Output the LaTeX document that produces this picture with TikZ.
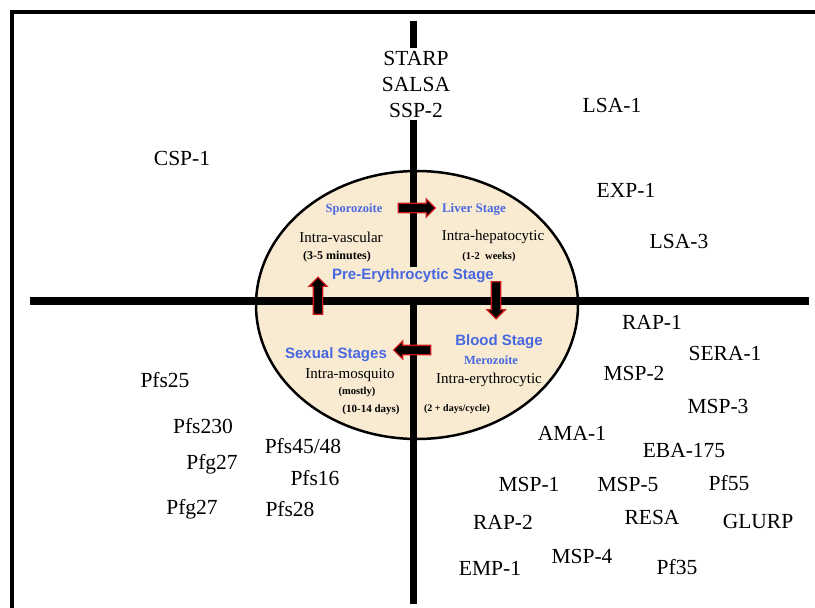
\documentclass[tikz,border=0pt]{standalone}
\usepackage{fontspec}
\setmainfont{Liberation Serif}
\newfontfamily\sansfam{Liberation Sans}
\usetikzlibrary{shapes.arrows,shapes.geometric}
\definecolor{beige}{RGB}{249,234,210}
\definecolor{stageblue}{RGB}{72,104,224}
\definecolor{arrowred}{RGB}{205,25,25}
\begin{document}
\begin{tikzpicture}[x=1pt,y=-1pt,
  prot/.style={font=\fontsize{21.5}{24}\selectfont, inner sep=0pt},
  intra/.style={font=\fontsize{15}{17}\selectfont, inner sep=0pt},
  dur/.style={font=\bfseries\fontsize{10.5}{12}\selectfont, inner sep=0pt},
  bluesans/.style={font=\sansfam\bfseries\fontsize{15}{17}\selectfont, text=stageblue, inner sep=0pt},
  blueserif/.style={font=\bfseries\fontsize{12.5}{14}\selectfont, text=stageblue, inner sep=0pt},
  blockarrow/.style={single arrow, fill=black, draw=arrowred, line width=1.3pt,
    minimum height=37pt, single arrow head extend=4.5pt,
    single arrow head indent=0pt, inner xsep=0pt, inner ysep=4pt},
  axisline/.style={line width=7.5pt},
]
\useasboundingbox (0,0) rectangle (815,608);
\fill[white] (0,0) rectangle (815,608);
% life cycle ellipse
\node (cycle) [ellipse, draw, fill=beige, line width=2.5pt, inner sep=0pt,
  minimum width=322pt, minimum height=268pt] at (417,305) {};
% axes
\coordinate (vtop) at (413.5,21);
\coordinate (vbot) at (413.5,604);
\coordinate (hleft) at (30,301);
\coordinate (hright) at (809,301);
\draw[axisline] (vtop) -- (vbot);
\draw[axisline] (hleft) -- (hright);
% frame
\draw[line width=4pt] (12,12) rectangle (840,640);
% stage labels
\node (pre) [bluesans, fill=beige, minimum height=30pt, minimum width=170pt] at (413,282) {};
\node [bluesans] at (413,276) {Pre-Erythrocytic Stage};
\node (spz) [blueserif] at (354,209) {Sporozoite};
\node (liver) [blueserif, font=\bfseries\fontsize{13}{14}\selectfont] at (474,209) {Liver Stage};
\node (ivasc) [intra] at (341,237) {Intra-vascular};
\node (ivascd) [dur, font=\bfseries\fontsize{12}{13}\selectfont] at (337,257) {(3-5 minutes)};
\node (ihep) [intra] at (493,237) {Intra-hepatocytic};
\node (ihepd) [dur] at (489,257) {(1-2 \ weeks)};
\node (blood) [bluesans] at (499,342) {Blood Stage};
\node (mero) [blueserif] at (491,360) {Merozoite};
\node (iery) [intra] at (489,380) {Intra-erythrocytic};
\node (ieryd) [dur, font=\bfseries\fontsize{10}{11}\selectfont] at (457,409) {(2 + days/cycle)};
\node (sex) [bluesans] at (336,355) {Sexual Stages};
\node (imos) [intra] at (350,375) {Intra-mosquito};
\node (imosm) [dur] at (357,392) {(mostly)};
\node (imosd) [dur, font=\bfseries\fontsize{11}{12}\selectfont] at (371,410) {(10-14 days)};
% cycle arrows
\node (arA) [blockarrow] at (414.5,208) {};
\node (arB) [blockarrow, rotate=-90] at (496,298) {};
\node (arC) [blockarrow, rotate=180] at (414.5,350) {};
\node (arD) [blockarrow, rotate=90] at (318,298) {};
% antigens
\node (toplist) [prot, fill=white, align=center, inner ysep=3pt, inner xsep=2pt,
  font=\fontsize{21.5}{26}\selectfont] at (416,84) {STARP\\SALSA\\SSP-2};
\node (lsa1) [prot] at (612,105) {LSA-1};
\node (csp1) [prot] at (182,158) {CSP-1};
\node (exp1) [prot] at (626,190) {EXP-1};
\node (lsa3) [prot] at (679,241) {LSA-3};
\node (rap1) [prot] at (652,322) {RAP-1};
\node (sera1) [prot] at (725,353) {SERA-1};
\node (msp2) [prot] at (634,373) {MSP-2};
\node (msp3) [prot] at (718,406) {MSP-3};
\node (ama1) [prot] at (572,433) {AMA-1};
\node (eba) [prot] at (684,451) {EBA-175};
\node (msp1) [prot] at (529,484) {MSP-1};
\node (msp5) [prot] at (628,484) {MSP-5};
\node (pf55) [prot] at (729,483) {Pf55};
\node (rap2) [prot] at (503,522) {RAP-2};
\node (resa) [prot] at (652,517) {RESA};
\node (glurp) [prot] at (758,521) {GLURP};
\node (emp1) [prot] at (490,568) {EMP-1};
\node (msp4) [prot] at (582,556) {MSP-4};
\node (pf35) [prot] at (677,567) {Pf35};
\node (pfs25) [prot] at (165,380) {Pfs25};
\node (pfs230) [prot] at (203,426) {Pfs230};
\node (pfs4548) [prot] at (303,446) {Pfs45/48};
\node (pfg27a) [prot] at (212,464) {Pfg27};
\node (pfs16) [prot] at (315,478) {Pfs16};
\node (pfg27b) [prot] at (192,509) {Pfg27};
\node (pfs28) [prot] at (290,509) {Pfs28};
\end{tikzpicture}
\end{document}
